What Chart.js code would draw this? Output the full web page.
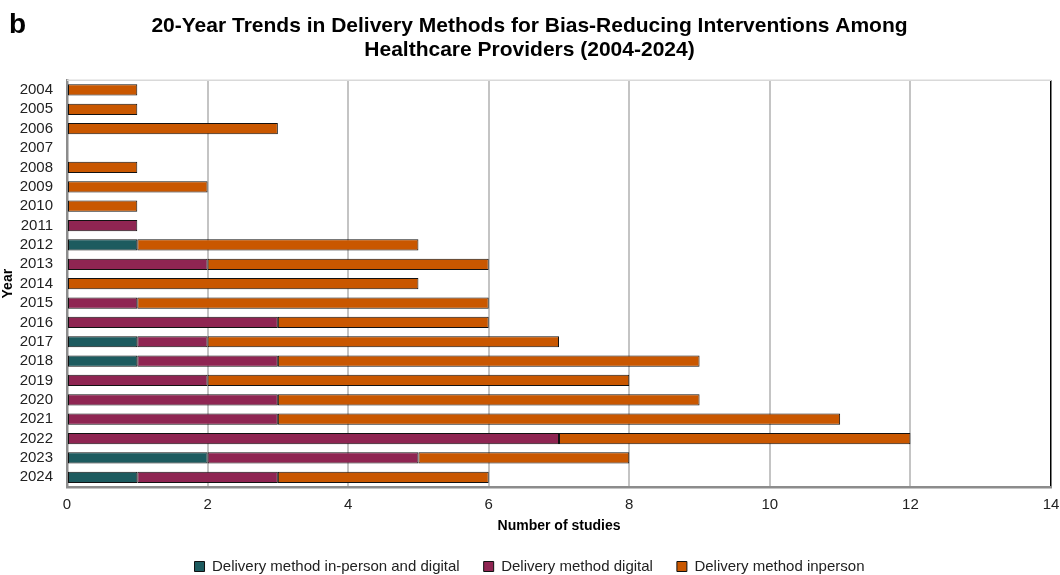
<!DOCTYPE html>
<html>
<head>
<meta charset="utf-8">
<script src="https://cdn.jsdelivr.net/npm/chart.js@4"></script>
<style>
  body { margin: 0; background: #fff; }
  #wrap { width: 1060px; height: 575px; position: relative; }
</style>
</head>
<body>
<div id="wrap"><canvas id="myChart"></canvas></div>
<script>
var years = ["2004","2005","2006","2007","2008","2009","2010","2011","2012","2013","2014",
             "2015","2016","2017","2018","2019","2020","2021","2022","2023","2024"];
var bothValues     = [0, 0, 0, 0, 0, 0, 0, 0, 1, 0, 0, 0, 0, 1, 1, 0, 0, 0, 0, 2, 1];
var digitalValues  = [0, 0, 0, 0, 0, 0, 0, 1, 0, 2, 0, 1, 3, 1, 2, 2, 3, 3, 7, 3, 2];
var inpersonValues = [1, 1, 3, 0, 1, 2, 1, 0, 4, 4, 5, 5, 3, 5, 6, 6, 6, 8, 5, 3, 3];
var xTicks = [0, 2, 4, 6, 8, 10, 12, 14];

var font = "Arial, 'Liberation Sans', sans-serif";

// panel letter + light top frame line
var extras = {
  id: "extras",
  afterDraw: function (chart) {
    var ctx = chart.ctx, a = chart.chartArea;
    ctx.save();
    ctx.strokeStyle = "#d9d9d9";
    ctx.lineWidth = 1.5;
    ctx.beginPath();
    ctx.moveTo(a.left, a.top);
    ctx.lineTo(a.right, a.top);
    ctx.stroke();
    ctx.fillStyle = "#000";
    ctx.font = "bold 28px " + font;
    ctx.textBaseline = "middle";
    ctx.fillText("b", 9, 25);
    ctx.restore();
  }
};

function ds(label, values, color) {
  return {
    label: label,
    data: values.map(function (v) { return v || null; }),
    backgroundColor: color,
    borderColor: "#111",
    borderWidth: 1,
    borderSkipped: false,
    barPercentage: 0.58,
    categoryPercentage: 1
  };
}

new Chart("myChart", {
  type: "bar",
  data: {
    labels: years,
    datasets: [
      ds("Delivery method in-person and digital", bothValues, "#1d5b5f"),
      ds("Delivery method digital", digitalValues, "#8f2552"),
      ds("Delivery method inperson", inpersonValues, "#c95700")
    ]
  },
  options: {
    indexAxis: "y",
    responsive: true,
    maintainAspectRatio: false,
    animation: false,
    layout: { padding: { left: 0, right: 1, top: 0, bottom: 0 } },
    plugins: {
      title: {
        display: true,
        text: ["20-Year Trends in Delivery Methods for Bias-Reducing Interventions Among",
               "Healthcare Providers (2004-2024)"],
        color: "#000",
        font: { family: font, size: 21, weight: "bold", lineHeight: 1.15 },
        padding: { top: 14, bottom: 18 }
      },
      legend: {
        position: "bottom",
        maxHeight: 40,
        labels: {
          color: "#222",
          font: { family: font, size: 15 },
          boxWidth: 10,
          boxHeight: 10,
          padding: 24
        }
      },
      tooltip: { enabled: false }
    },
    scales: {
      x: {
        stacked: true,
        min: 0,
        max: 14,
        afterBuildTicks: function (axis) {
          axis.ticks = xTicks.map(function (v) { return { value: v }; });
        },
        afterFit: function (s) { s.height = 48; s.paddingRight = 9; },
        grid: {
          color: function (c) {
            if (c.tick && c.tick.value === 14) return "#000";
            if (c.tick && c.tick.value === 0) return "rgba(0,0,0,0)";
            return "#c4c4c4";
          },
          lineWidth: function (c) { return c.tick && c.tick.value === 14 ? 1.5 : 2; },
          drawTicks: false,
          tickLength: 0
        },
        border: { display: true, color: "#8c8c8c", width: 2.5 },
        ticks: { color: "#222", font: { family: font, size: 15 }, padding: 9 },
        title: {
          display: true,
          text: "Number of studies",
          color: "#000",
          font: { family: font, size: 14, weight: "bold" },
          padding: { top: 4, bottom: 0 }
        }
      },
      y: {
        stacked: true,
        afterFit: function (s) { s.width = 67; },
        grid: { display: false, drawTicks: false, tickLength: 0 },
        border: { display: true, color: "#8c8c8c", width: 2.5 },
        ticks: { color: "#222", font: { family: font, size: 15 }, padding: 14, autoSkip: false },
        title: {
          display: true,
          text: "Year",
          color: "#000",
          font: { family: font, size: 14, weight: "bold" },
          padding: { top: 0, bottom: 0 }
        }
      }
    }
  },
  plugins: [extras]
});
</script>
</body>
</html>
